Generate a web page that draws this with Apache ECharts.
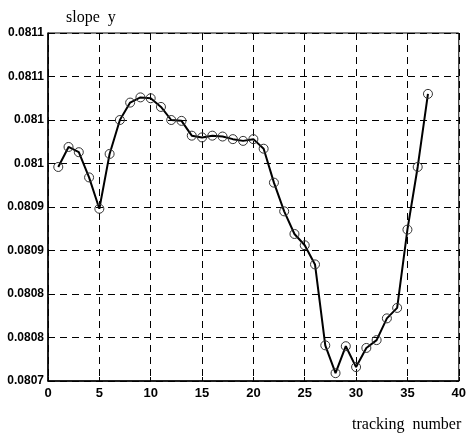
<!DOCTYPE html>
<html>
<head>
<meta charset="utf-8">
<script src="https://cdn.jsdelivr.net/npm/echarts@6/dist/echarts.min.js"></script>
<style>
  html, body { margin: 0; padding: 0; background: #fff; }
  #chart-container { width: 469px; height: 435px; }
</style>
</head>
<body>
<div id="chart-container"></div>
<script>
// tracking numbers 1..37
const trackingNumber = [
  1, 2, 3, 4, 5, 6, 7, 8, 9, 10, 11, 12, 13, 14, 15, 16, 17, 18, 19,
  20, 21, 22, 23, 24, 25, 26, 27, 28, 29, 30, 31, 32, 33, 34, 35, 36, 37,
];

// slope y
const slopeY = [
  0.080946, 0.080969, 0.080963, 0.080934, 0.080898, 0.080961, 0.081,
  0.08102, 0.081026, 0.081025, 0.081015, 0.081, 0.080999, 0.080982,
  0.08098, 0.080982, 0.080981, 0.080978, 0.080976, 0.080978, 0.080967,
  0.080928, 0.080895, 0.080869, 0.080856, 0.080834, 0.080741, 0.080709,
  0.08074, 0.080716, 0.080738, 0.080747, 0.080772, 0.080784, 0.080874,
  0.080946, 0.08103,
];

// y tick labels as printed (rounded to 4 decimals), bottom to top
const yTickLabels = [
  "0.0807", "0.0808", "0.0808", "0.0809", "0.0809",
  "0.081", "0.081", "0.0811", "0.0811",
];

const yMin = 0.0807;
const yStep = 0.00005;

const dom = document.getElementById("chart-container");
const chart = echarts.init(dom, null, { renderer: "canvas" });

const labelFont = {
  color: "#000",
  fontFamily: "Liberation Sans",
  fontSize: 12,
  fontWeight: "bold",
};

const gridLine = {
  show: true,
  lineStyle: { color: "#000", width: 1, type: [7, 5] },
};

const option = {
  backgroundColor: "#fff",
  animation: false,
  title: [
    {
      text: "slope  y",
      left: 61,
      top: 5,
      textStyle: {
        fontFamily: "Liberation Serif",
        fontSize: 16,
        fontWeight: "normal",
        color: "#000",
      },
    },
    {
      text: "tracking  number",
      left: 347,
      top: 412,
      textStyle: {
        fontFamily: "Liberation Serif",
        fontSize: 16,
        fontWeight: "normal",
        color: "#000",
      },
    },
  ],
  grid: {
    left: 48,
    right: 7,
    top: 33,
    bottom: 54,
    show: true,
    borderColor: "#000",
    borderWidth: 1,
  },
  xAxis: {
    type: "value",
    min: 0,
    max: 40,
    interval: 5,
    axisLine: { show: true, lineStyle: { color: "#000", width: 1.5 } },
    axisTick: { show: true, inside: true, length: 4, lineStyle: { color: "#000" } },
    axisLabel: { ...labelFont, fontSize: 13, margin: 6 },
    splitLine: gridLine,
  },
  yAxis: {
    type: "value",
    min: yMin,
    max: 0.0811,
    interval: yStep,
    axisLine: { show: true, lineStyle: { color: "#000", width: 1.5 } },
    axisTick: { show: true, inside: true, length: 4, lineStyle: { color: "#000" } },
    axisLabel: {
      ...labelFont,
      margin: 4,
      formatter: (v) => yTickLabels[Math.round((v - yMin) / yStep)] ?? "",
    },
    splitLine: gridLine,
  },
  series: [
    {
      type: "line",
      data: trackingNumber.map((t, i) => [t, slopeY[i]]),
      symbol: "circle",
      symbolSize: 9,
      showAllSymbol: true,
      lineStyle: { color: "#000", width: 2 },
      itemStyle: { color: "rgba(255,255,255,0)", borderColor: "#333", borderWidth: 1 },
      z: 3,
    },
  ],
};

chart.setOption(option);
</script>
</body>
</html>
